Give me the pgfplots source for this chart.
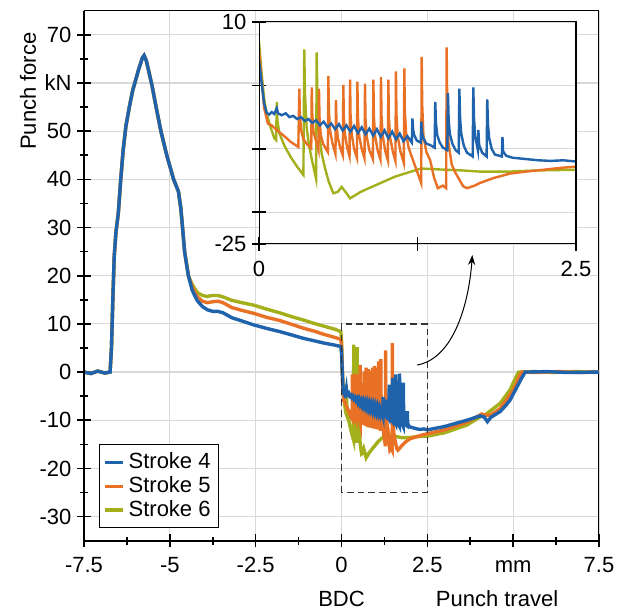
\documentclass[border=0pt]{standalone}
\usepackage{fontspec}
\setmainfont{Liberation Sans}
\usepackage{pgfplots}
\usepackage{pgfplotstable}
\pgfplotsset{compat=1.18}
\usetikzlibrary{arrows.meta}

\definecolor{sblue}{RGB}{31,99,172}
\definecolor{sorange}{RGB}{233,113,38}
\definecolor{sgreen}{RGB}{163,176,27}
\definecolor{gridgray}{RGB}{217,217,217}

% common rise and peak (all strokes coincide)
\pgfplotstableread{
x y
-7.5 0
-7.3 -0.3
-7.1 0.2
-6.9 -0.2
-6.74 0
-6.70 5
-6.66 15
-6.62 24
-6.57 29
-6.50 33
-6.43 40
-6.36 46
-6.28 51
-6.18 55
-6.08 58.5
-6.00 60.5
-5.90 63
-5.80 65.2
-5.75 65.7
-5.68 64.5
-5.60 62
-5.52 59.5
-5.40 55
-5.26 50
-5.09 45
-4.89 40
-4.75 37.5
-4.68 34
-4.63 30
-4.57 25
-4.46 20
}\peak

% stroke 6
\pgfplotstableread{
x y
-4.35 18.2
-4.20 16.5
-4.05 15.9
-3.92 15.7
-3.75 15.9
-3.60 15.9
-3.45 15.6
-3.20 14.9
-2.90 14.4
-2.56 13.9
-2.20 13.1
-1.80 12.3
-1.45 11.5
-1.11 10.8
-0.80 10.1
-0.50 9.5
-0.20 8.9
-0.02 8.4
0 6.9
0.02 2.0
0.04 -2.0
0.06 -4.5
0.09 -6.5
0.12 -8.3
0.135 -8.6
0.14 -2.6
0.145 -5.5
0.16 -7.5
0.20 -9.5
0.25 -11.3
0.30 -12.8
0.35 -14.1
0.357 5.7
0.362 -1.0
0.375 -6.5
0.395 -9.5
0.42 -12.0
0.45 -14.7
0.455 5.2
0.46 -2.0
0.475 -7.5
0.494 -10.7
0.52 -13.0
0.55 -15.2
0.586 -17.0
0.62 -16.8
0.652 -16.0
0.69 -17.0
0.718 -17.8
0.76 -17.3
0.80 -16.8
0.889 -16.0
0.98 -15.2
1.07 -14.4
1.18 -13.7
1.28 -13.1
1.38 -13.2
1.48 -13.3
1.60 -13.4
1.75 -13.6
1.95 -13.6
2.20 -13.4
2.50 -13.3
3.00 -12.6
3.65 -11.0
4.04 -9.3
4.20 -8.8
4.62 -6.5
4.91 -3.7
5.05 -1.5
5.16 0
5.60 0.1
6.20 -0.1
6.80 0.1
7.50 0
}\strokesix

% stroke 5
\pgfplotstableread{
x y
-4.35 17.6
-4.20 15.6
-4.05 14.7
-3.90 14.4
-3.75 14.6
-3.60 14.7
-3.45 14.4
-3.20 13.4
-2.90 12.8
-2.56 12.2
-2.20 11.4
-1.80 10.7
-1.45 9.9
-1.11 9.1
-0.80 8.5
-0.50 7.8
-0.20 7.2
-0.02 6.8
0 5.6
0.02 1.0
0.04 -3.5
0.07 -6.0
0.10 -6.3
0.15 -7.2
0.20 -8.0
0.25 -8.9
0.310 -9.7
0.318 -0.5
0.322 -4.5
0.332 -7.0
0.350 -8.5
0.380 -9.3
0.412 -9.9
0.416 -0.3
0.420 -4.5
0.430 -7.3
0.450 -8.8
0.469 -10.2
0.473 -0.5
0.477 -5.0
0.487 -7.8
0.505 -9.2
0.543 -10.5
0.547 1.5
0.551 -4.0
0.561 -7.2
0.580 -9.2
0.603 -10.8
0.607 -2.3
0.611 -6.0
0.621 -8.2
0.640 -9.8
0.661 -11.0
0.665 0.1
0.669 -5.0
0.679 -7.8
0.695 -9.8
0.714 -11.2
0.718 0.9
0.722 -4.6
0.732 -7.8
0.750 -10.0
0.772 -11.4
0.776 0.6
0.780 -5.0
0.790 -8.0
0.810 -10.0
0.832 -11.5
0.836 0.3
0.840 -5.2
0.850 -8.1
0.870 -10.2
0.898 -11.6
0.902 0.9
0.906 -4.9
0.916 -8.0
0.935 -10.2
0.958 -11.7
0.962 1.3
0.966 -4.7
0.976 -8.0
0.995 -10.3
1.016 -11.8
1.020 0.9
1.024 -5.0
1.034 -8.2
1.055 -10.4
1.076 -11.9
1.080 2.2
1.084 -4.5
1.094 -8.0
1.115 -10.4
1.142 -12.2
1.146 2.7
1.150 -4.0
1.160 -7.5
1.180 -9.8
1.200 -11.0
1.240 -13.2
1.279 -15.4
1.283 4.5
1.287 -3.0
1.297 -8.0
1.320 -10.5
1.350 -11.8
1.380 -14.5
1.410 -16.2
1.450 -15.8
1.476 -16.2
1.480 6.0
1.484 -2.5
1.494 -9.0
1.520 -12.5
1.550 -13.8
1.610 -15.9
1.640 -16.2
1.700 -15.8
1.740 -15.4
1.850 -14.6
1.980 -13.9
2.100 -13.6
2.240 -13.3
2.380 -13.0
2.500 -12.8
3.00 -12.0
3.65 -10.4
4.09 -8.7
4.20 -9.0
4.35 -8.9
4.62 -7.6
4.85 -5.3
5.01 -3.7
5.15 -1.4
5.25 0
5.70 -0.1
6.30 0.1
7.00 -0.1
7.50 0
}\strokefive

% stroke 4
\pgfplotstableread{
x y
-4.35 17.0
-4.20 14.8
-4.05 13.6
-3.90 12.9
-3.75 12.6
-3.60 12.6
-3.45 12.3
-3.20 11.3
-2.90 10.6
-2.56 9.8
-2.20 9.1
-1.80 8.4
-1.45 7.7
-1.11 7.0
-0.80 6.5
-0.50 6.0
-0.20 5.6
-0.02 5.3
0 4.0
0.02 0.5
0.04 -2.8
0.06 -4.3
0.08 -4.6
0.10 -4.2
0.12 -4.5
0.14 -3.6
0.15 -4.4
0.18 -4.7
0.21 -4.4
0.24 -5.0
0.27 -4.8
0.30 -5.3
0.33 -5.0
0.36 -5.6
0.39 -5.3
0.42 -5.9
0.45 -5.5
0.48 -6.3
0.51 -5.7
0.54 -6.6
0.57 -6.0
0.60 -6.9
0.63 -6.1
0.66 -7.1
0.69 -6.3
0.72 -7.3
0.75 -6.4
0.78 -7.5
0.81 -6.6
0.84 -7.7
0.87 -6.8
0.90 -7.9
0.93 -6.9
0.96 -8.1
0.99 -7.1
1.02 -8.3
1.05 -7.3
1.08 -8.5
1.11 -7.6
1.14 -8.8
1.17 -8.0
1.205 -9.0
1.21 -5.2
1.216 -7.0
1.225 -7.9
1.245 -8.7
1.275 -9.0
1.28 -5.7
1.286 -7.5
1.295 -8.3
1.32 -9.2
1.35 -9.4
1.385 -9.8
1.39 -2.6
1.396 -6.0
1.405 -7.8
1.425 -9.0
1.45 -9.8
1.485 -10.2
1.49 -1.2
1.496 -5.5
1.505 -7.6
1.525 -9.2
1.55 -10.2
1.575 -10.6
1.58 -0.5
1.586 -5.2
1.595 -7.6
1.615 -9.5
1.64 -10.6
1.685 -11.2
1.69 -0.3
1.696 -5.3
1.705 -8.0
1.72 -9.6
1.726 -10.2
1.73 -7.0
1.736 -9.4
1.76 -10.6
1.795 -11.2
1.80 -2.2
1.806 -6.2
1.815 -8.3
1.835 -10.0
1.86 -10.9
1.915 -11.2
1.92 -8.1
1.925 -10.4
1.95 -11.1
2.00 -11.4
2.10 -11.6
2.20 -11.8
2.30 -11.9
2.40 -11.8
2.50 -12.0
3.00 -11.3
3.65 -10.0
4.04 -9.1
4.15 -9.3
4.25 -10.3
4.35 -9.4
4.62 -8.2
4.80 -6.8
4.91 -5.8
5.11 -3.1
5.25 -1.2
5.35 0
6.00 0.1
6.60 -0.1
7.50 0
}\strokefour

% full series = common peak + own part
\pgfplotstablevertcat{\sixall}{\peak}
\pgfplotstablevertcat{\sixall}{\strokesix}
\pgfplotstablevertcat{\fiveall}{\peak}
\pgfplotstablevertcat{\fiveall}{\strokefive}
\pgfplotstablevertcat{\fourall}{\peak}
\pgfplotstablevertcat{\fourall}{\strokefour}

\begin{document}
\begin{tikzpicture}[font=\fontsize{11}{13}\selectfont]
\useasboundingbox (-42pt,-34.65pt) rectangle (270.5pt,270.35pt);
\begin{axis}[
  at={(0pt,0pt)}, anchor=south west,
  scale only axis, width=257.5pt, height=265pt,
  xmin=-7.5, xmax=7.5, ymin=-35, ymax=75,
  xtick={-7.5,-5,-2.5,0,2.5,5,7.5},
  xticklabels={-7.5,-5,-2.5,0,2.5,mm,7.5},
  ytick={-30,-20,-10,0,10,20,30,40,50,60,70},
  yticklabels={-30,-20,-10,0,10,20,30,40,50,kN,70},
  minor x tick num=1, minor y tick num=1,
  grid=major, major grid style={gridgray, line width=0.6pt},
  tick align=center, tick pos=left,
  major tick length=6.7pt, minor tick length=4pt,
  tick style={black, line width=0.8pt},
  axis line style={line width=0.5pt},
  xticklabel style={yshift=-0.8pt, text height=1.6ex, text depth=0pt},
  yticklabel style={xshift=0.6pt},
  clip=false,
  reverse legend,
  legend cell align=left,
  legend style={at={(0.029,0.182)}, anchor=north west, draw=black, line width=0.5pt,
    inner sep=2pt, row sep=-1.5pt},
  legend image code/.code={\draw[#1, line width=1.6pt] (0pt,0pt) -- (9pt,0pt);},
]
\addplot[sgreen, line width=1.7pt] table {\sixall};
\addlegendentry{Stroke 6}
\addplot[sorange, line width=1.7pt] table {\fiveall};
\addlegendentry{Stroke 5}
\addplot[sblue, line width=1.7pt] table {\fourall};
\addlegendentry{Stroke 4}
\draw[black!80, line width=0.7pt, dash pattern=on 3.4pt off 2pt] (axis cs:0,-25) rectangle (axis cs:2.5,10);
\draw[black, line width=0.5pt, -{Stealth[length=5pt,width=3.6pt]}] (axis cs:2.205,1.46) .. controls (axis cs:3.31,2.9) and (axis cs:3.72,15.0) .. (axis cs:3.81,24.3);
\draw[black, line width=1pt] (rel axis cs:0,1) -- (rel axis cs:0,0) -- (rel axis cs:1,0);
\node[rotate=90] at (axis cs:-9.13,58.3) {Punch force};
\node at (axis cs:0,-47) {BDC};
\node at (axis cs:4.53,-47) {Punch travel};
\end{axis}
\begin{axis}[
  at={(87.5pt,148.35pt)}, anchor=south west,
  scale only axis, width=158.5pt, height=111pt,
  xmin=0, xmax=2.5, ymin=-25, ymax=10,
  xtick={0,1.25,2.5}, xticklabels={0,,2.5},
  ytick={-25,-20,-10,0,10}, yticklabels={-25,,,,10},
  ymajorgrids, major grid style={gridgray, line width=0.6pt},
  axis background/.style={fill=white},
  tick align=center, tick pos=left,
  major tick length=6.7pt,
  tick style={black, line width=0.8pt},
  axis line style={line width=0.5pt},
  xticklabel style={yshift=-0.8pt, text height=1.6ex, text depth=0pt},
  yticklabel style={xshift=0.6pt},
]
\addplot[sgreen, line width=1.2pt] table {\strokesix};
\addplot[sorange, line width=1.2pt] table {\strokefive};
\addplot[sblue, line width=1.2pt] table {\strokefour};
\draw[black, line width=1pt] (rel axis cs:0,1) -- (rel axis cs:0,0) -- (rel axis cs:1,0) -- (rel axis cs:1,1);
\end{axis}
\end{tikzpicture}
\end{document}
